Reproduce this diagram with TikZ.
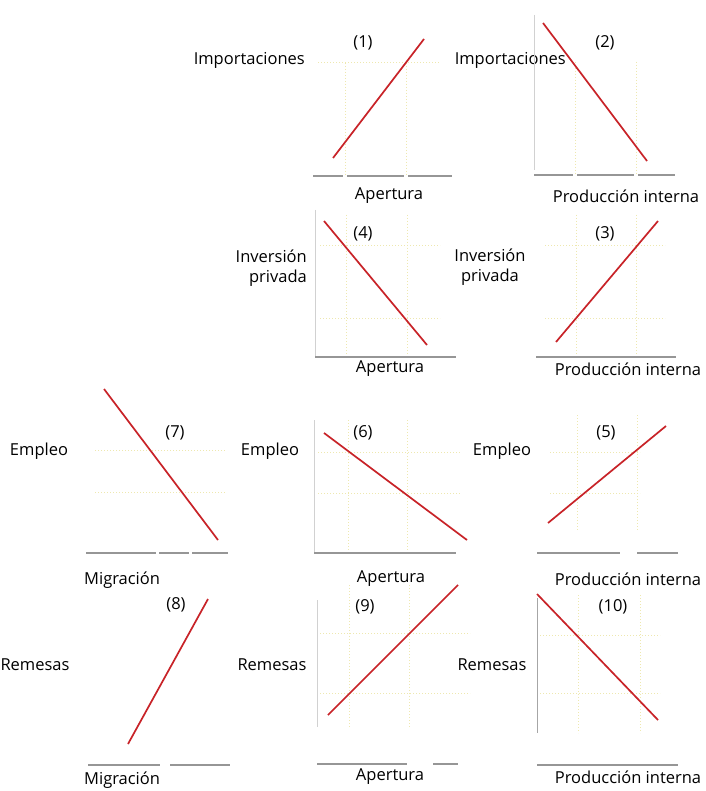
\documentclass[tikz,border=0pt]{standalone}
\usepackage{fontspec}
\setmainfont{Open Sans}
\usepackage{tikz}
\usetikzlibrary{positioning}
\definecolor{linered}{RGB}{200,35,40}
\definecolor{axisgray}{RGB}{150,150,150}
\definecolor{guideyel}{RGB}{238,232,175}

\begin{document}
\begin{tikzpicture}[x=1pt, y=-1pt,
  lbl/.style={font=\fontsize{16.5}{20}\selectfont, inner sep=0pt},
  curve/.style={draw=linered, line width=1.7pt},
  axisline/.style={draw=axisgray, line width=1.1pt},
  yaxisline/.style={draw=black!18, line width=0.8pt},
  guide/.style={draw=guideyel, line width=1pt, dotted}]
\useasboundingbox [fill=white] (0, 0) rectangle (705, 791);

% (1)
\node [lbl, anchor=east] (I1) at (305, 60) {Importaciones};
\node [lbl] (N1) at (363, 43) {(1)};
\node [lbl] (X1) at (389, 196) {Apertura};
\coordinate (P1) at (333, 158);
\coordinate (Q1) at (424, 39);
\draw [guide] (345, 63) -- (345, 176) (406, 63) -- (406, 176) (318, 63) -- (440, 63);
\draw [axisline] (313, 176) -- (343, 176) (347, 176) -- (404, 176) (408, 176) -- (452, 176);
\draw [curve] (P1) -- (Q1);

% (2)
\node [lbl, anchor=east] (I2) at (566, 60) {Importaciones};
\node [lbl] (N2) at (605, 43) {(2)};
\node [lbl] (X2) at (626, 196) {Producción interna};
\coordinate (P2) at (543, 23);
\coordinate (Q2) at (647, 161);
\draw [yaxisline] (534, 15) -- (534, 170);
\draw [guide] (575, 62) -- (575, 175) (636, 62) -- (636, 175);
\draw [axisline] (534, 175) -- (573, 175) (577, 175) -- (634, 175) (638, 175) -- (675, 175);
\draw [curve] (P2) -- (Q2);

% (4)
\node [lbl, anchor=east, align=right] (I4) at (307, 268) {Inversión\\privada};
\node [lbl] (N4) at (363, 234) {(4)};
\node [lbl] (X4) at (390, 369) {Apertura};
\coordinate (P4) at (324, 221);
\coordinate (Q4) at (427, 345);
\draw [yaxisline] (315, 210) -- (315, 357);
\draw [guide] (346, 215) -- (346, 357) (407, 215) -- (407, 357) (320, 246) -- (440, 246) (320, 318) -- (440, 318);
\draw [axisline] (315, 357) -- (456, 357);
\draw [curve] (P4) -- (Q4);

% (3)
\node [lbl, align=center] (I3) at (490, 267) {Inversión\\privada};
\node [lbl] (N3) at (605, 234) {(3)};
\node [lbl] (X3) at (628, 369) {Producción interna};
\coordinate (P3) at (556, 342);
\coordinate (Q3) at (658, 221);
\draw [guide] (576, 215) -- (576, 357) (636, 215) -- (636, 357) (545, 246) -- (665, 246) (545, 318) -- (665, 318);
\draw [axisline] (536, 357) -- (676, 357);
\draw [curve] (P3) -- (Q3);

% (7)
\node [lbl] (E7) at (39, 451) {Empleo};
\node [lbl] (N7) at (175, 433) {(7)};
\node [lbl, anchor=west] (X7) at (84, 580) {Migración};
\coordinate (P7) at (104, 389);
\coordinate (Q7) at (218, 540);
\draw [guide] (95, 450) -- (225, 450) (95, 492) -- (225, 492);
\draw [axisline] (86, 553) -- (156, 553) (159, 553) -- (189, 553) (192, 553) -- (228, 553);
\draw [curve] (P7) -- (Q7);

% (6)
\node [lbl] (E6) at (270, 451) {Empleo};
\node [lbl] (N6) at (363, 433) {(6)};
\node [lbl] (X6) at (391, 579) {Apertura};
\coordinate (P6) at (324, 433);
\coordinate (Q6) at (467, 540);
\draw [yaxisline] (314, 420) -- (314, 553);
\draw [guide] (348, 420) -- (348, 553) (407, 420) -- (407, 553) (318, 452) -- (460, 452) (318, 493) -- (460, 493);
\draw [axisline] (314, 553) -- (456, 553);
\draw [curve] (P6) -- (Q6);

% (5)
\node [lbl] (E5) at (502, 451) {Empleo};
\node [lbl] (N5) at (606, 433) {(5)};
\node [lbl] (X5) at (628, 579) {Producción interna};
\coordinate (P5) at (548, 523);
\coordinate (Q5) at (666, 426);
\draw [guide] (577, 415) -- (577, 530) (637, 415) -- (637, 530) (550, 452) -- (640, 452) (550, 493) -- (640, 493);
\draw [axisline] (537, 553) -- (620, 553) (637, 553) -- (678, 553);
\draw [curve] (P5) -- (Q5);

% (8)
\node [lbl] (R8) at (35, 665) {Remesas};
\node [lbl] (N8) at (176, 605) {(8)};
\node [lbl, anchor=west] (X8) at (84, 780) {Migración};
\coordinate (P8) at (128, 744);
\coordinate (Q8) at (208, 599);
\draw [axisline] (88, 765) -- (160, 765) (170, 765) -- (230, 765);
\draw [curve] (P8) -- (Q8);

% (9)
\node [lbl] (R9) at (272, 665) {Remesas};
\node [lbl] (N9) at (365, 607) {(9)};
\node [lbl] (X9) at (390, 777) {Apertura};
\coordinate (P9) at (328, 715);
\coordinate (Q9) at (458, 585);
\draw [yaxisline] (317, 600) -- (317, 727);
\draw [guide] (349, 585) -- (349, 727) (409, 585) -- (409, 727) (320, 633) -- (470, 633) (320, 693) -- (470, 693);
\draw [axisline] (317, 764) -- (407, 764) (433, 764) -- (458, 764);
\draw [curve] (P9) -- (Q9);

% (10)
\node [lbl] (R10) at (492, 665) {Remesas};
\node [lbl] (N10) at (613, 607) {(10)};
\node [lbl] (X10) at (628, 777) {Producción interna};
\coordinate (P10) at (537, 594);
\coordinate (Q10) at (658, 720);
\draw [yaxisline, draw=black!35] (537, 598) -- (537, 733);
\draw [guide] (578, 595) -- (578, 733) (640, 595) -- (640, 733) (540, 635) -- (660, 635) (540, 693) -- (660, 693);
\draw [axisline] (537, 765) -- (678, 765);
\draw [curve] (P10) -- (Q10);
\end{tikzpicture}
\end{document}
